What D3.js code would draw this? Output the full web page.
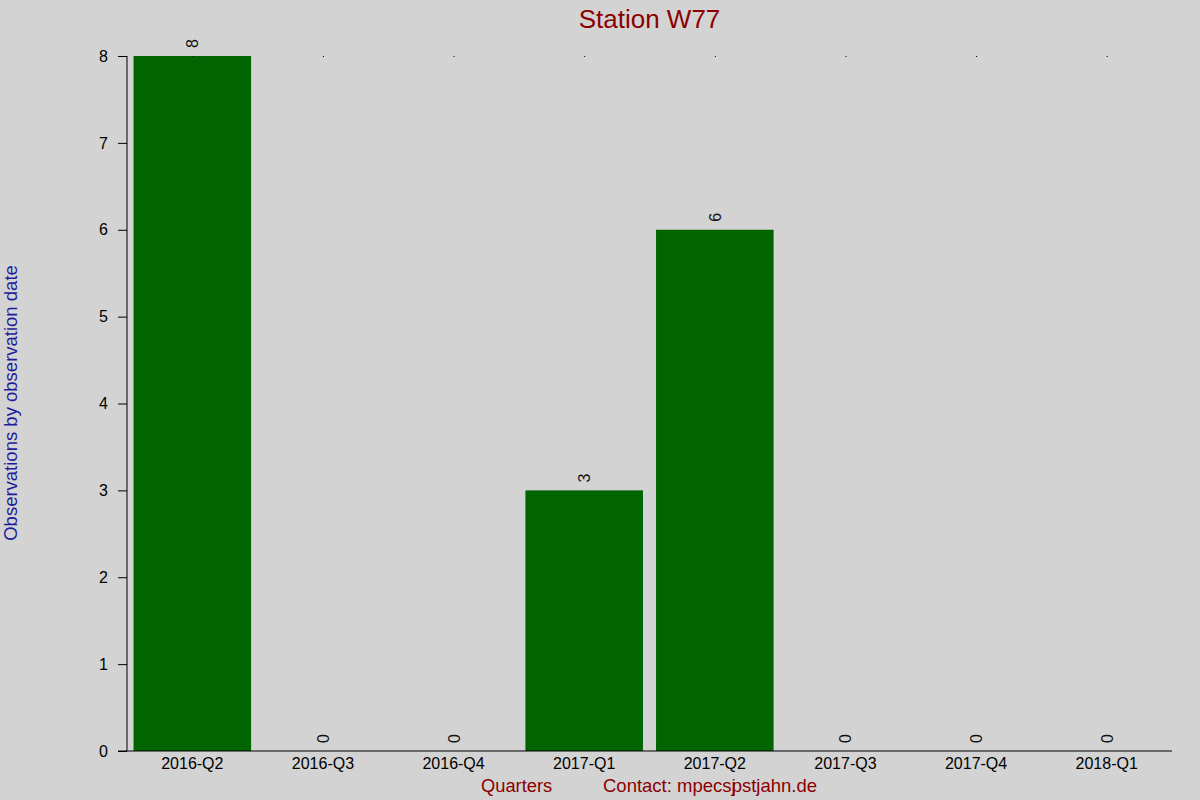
<!DOCTYPE html>
<html>
<head>
<meta charset="utf-8">
<script src="https://cdn.jsdelivr.net/npm/d3@7"></script>
<style>
  body { margin: 0; background: #d3d3d3; }
  svg { display: block; font-family: "Liberation Sans", Arial, sans-serif; }
</style>
</head>
<body>
<svg id="chart"></svg>
<script>
// chart data
const quarters = ["2016-Q2", "2016-Q3", "2016-Q4", "2017-Q1", "2017-Q2", "2017-Q3", "2017-Q4", "2018-Q1"]
const counts = [8, 0, 0, 3, 6, 0, 0, 0]
const yTicks = [0, 1, 2, 3, 4, 5, 6, 7, 8]

const width = 1200
const height = 800
const plotLeft = 127
const plotRight = 1172
const plotTop = 56
const plotBottom = 751

const svg = d3.select("#chart")
    .attr("width", width)
    .attr("height", height)

svg.append("rect")
    .attr("width", width)
    .attr("height", height)
    .attr("fill", "#d3d3d3")

const xScale = d3.scaleBand()
    .domain(quarters)
    .range([plotLeft, plotRight])
    .paddingInner(0.1)
    .paddingOuter(0.05)

const yScale = d3.scaleLinear()
    .domain([0, 8])
    .range([plotBottom, plotTop])

// bars
svg.selectAll(".bar")
    .data(quarters)
    .enter()
    .append("rect")
    .attr("class", "bar")
    .attr("x", d => xScale(d))
    .attr("width", xScale.bandwidth())
    .attr("y", (d, i) => yScale(counts[i]))
    .attr("height", (d, i) => plotBottom - yScale(counts[i]))
    .attr("fill", "#006400")

// tiny marks at the top of every band
svg.selectAll(".dot")
    .data(quarters)
    .enter()
    .append("rect")
    .attr("x", d => xScale(d) + xScale.bandwidth() / 2)
    .attr("y", yScale(8))
    .attr("width", 1)
    .attr("height", 1)
    .attr("fill", "#000")

// value labels, rotated
svg.selectAll(".val")
    .data(quarters)
    .enter()
    .append("text")
    .attr("transform", (d, i) => "translate(" + (xScale(d) + xScale.bandwidth() / 2 + 6) + "," + (yScale(counts[i]) - 8) + ") rotate(-90)")
    .attr("font-size", 16)
    .attr("fill", "#111")
    .text((d, i) => counts[i])

// y axis
const yAxis = d3.axisLeft(yScale)
    .tickValues(yTicks)
    .tickSize(9)
    .tickPadding(10)
    .tickFormat(d3.format("d"))

const gy = svg.append("g")
    .attr("transform", "translate(" + plotLeft + ",0)")
    .call(yAxis)
gy.attr("font-size", 16).attr("font-family", "Liberation Sans, Arial, sans-serif")
gy.select(".domain").attr("d", "M0," + plotTop + "V" + plotBottom)

// x axis
const xAxis = d3.axisBottom(xScale)
    .tickSize(0)
    .tickPadding(7)

const gx = svg.append("g")
    .attr("transform", "translate(0," + plotBottom + ")")
    .call(xAxis)
gx.attr("font-size", 16).attr("font-family", "Liberation Sans, Arial, sans-serif")
gx.select(".domain").attr("d", "M" + (plotLeft - 9) + ",0H" + plotRight)

// titles
svg.append("text")
    .attr("x", (plotLeft + plotRight) / 2)
    .attr("y", 28)
    .attr("text-anchor", "middle")
    .attr("font-size", 26)
    .attr("fill", "#8b0000")
    .text("Station W77")

svg.append("text")
    .attr("transform", "translate(17,403) rotate(-90)")
    .attr("text-anchor", "middle")
    .attr("font-size", 18.5)
    .attr("fill", "#1c1c9c")
    .text("Observations by observation date")

svg.append("text")
    .attr("x", 481)
    .attr("y", 792)
    .attr("font-size", 18.3)
    .attr("fill", "#8b0000")
    .text("Quarters")

const contact = svg.append("text")
    .attr("x", 603)
    .attr("y", 792)
    .attr("font-size", 18.5)
    .attr("fill", "#8b0000")
contact.append("tspan").text("Contact: mpecsj")
contact.append("tspan").attr("dx", -4).text("pstjahn.de")
</script>
</body>
</html>
